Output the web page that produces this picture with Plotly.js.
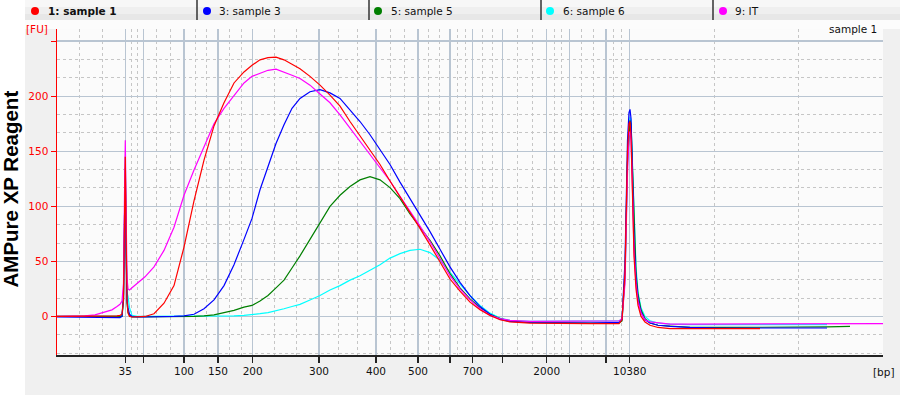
<!DOCTYPE html>
<html><head><meta charset="utf-8">
<script src="https://cdn.plot.ly/plotly-3.0.1.min.js"></script>
<style>html,body{margin:0;padding:0;background:#f0f0f0;}#chart{width:900px;height:395px;}</style>
</head><body><div id="chart"></div>
<script>
// migration time (s)
const migrationTime = [40.0,41.3,42.8,43.8,44.8,45.5,46.0,46.3,46.5,46.65,46.75,46.83,46.92,47.0,47.1,47.25,47.5,48.0,48.8,49.7,50.7,51.7,52.7,53.7,54.7,55.7,56.7,57.7,58.7,59.5,60.3,61.1,61.9,62.7,63.5,64.3,65.3,66.3,67.3,68.3,69.3,70.3,71.3,72.3,73.3,74.3,75.3,76.3,77.3,78.3,79.3,80.3,81.3,82.3,83.3,84.3,85.3,87.3,90.3,93.3,95.3,96.2,96.5,96.8,97.05,97.2,97.3,97.4,97.55,97.7,97.9,98.1,98.4,98.8,99.3,100.1,101.3,103.3,106.3,110.3,114.3,117.0,119.3,122.6];

const sample1 = [0,0,0,0,0,0.5,0.5,1,2, 15,80,145,70,15,3,0, -0.5,-0.5,0,2.5,12,28, 63,105,142,173,194,212,222, 228,233,235,235.5,233,229,225, 218,210,201,191,177,164,150, 138,123,109,95,80,65,49, 34,23,13,6,1,-3,-5, -6,-6.5,-6.5,-6.5,-6.5,-3, 40,150,175,177,165,110,55, 25,10,0,-5,-8,-10,-11, -11,-11,-11,null,null,null,null];
const sample3 = [-0.5,-0.5,-0.5,-0.5,-1,-1,-1,-1,0, 20,90,135,60,15,8,2, 0,-0.5,-0.5,-0.5,-0.5,0, 0.5,2,7,15,28,47,70, 89,115,137,157,174,189,198, 204,206,203,198,188,177,165, 151,138,122,107,93,77,61, 45,31,19,9,2,-2.5,-4.5, -5.5,-6,-6,-5.5,-5.5,-3, 50,160,185,188,180,130,70, 35,16,4,-3,-6,-8,-9, -10,-10.5,-10.5,-10.5,-10.5,null,null];
const sample5 = [0,0,0,0,0,0,0,0,0, 15,80,125,55,12,4,1, -0.5,-0.5,-0.5,-0.5,-0.5,-0.5, -0.5,0,0.5,1.5,3.5,5.5,8.5, 10,14,19,26,33,44,55, 70,85,100,110,118,124,127, 124,117,107,93,81,69,55, 39,26,16,8,2,-2,-4, -5.5,-6,-6,-6,-6,-4, 35,140,172,178,175,135,80, 40,20,6,-2,-6,-8,-9, -10,-10,-10,-10,-9.5,-9,null];
const sample6 = [0,0,0,0,0,0,0,0,0, 15,80,145,60,22,18,8, 1,0,0,0,0,0, 0,0,0,0,0,0.5,1, 1.5,2.5,3.5,5,7,9,11, 15,19,24,28,33,37,42, 47,53,57,60,61,58,51, 40,29,19,10,3,-1.5,-3.5, -4.5,-4.5,-4.5,-4.5,-4,-2, 40,140,172,181,178,140,85, 45,22,8,0,-4,-6,-7, -7.5,-7.5,-7.5,-7.5,-7.5,null,null];
const sampleIT = [0,0,0.5,1.5,4,6,9,11,14, 30,110,160,90,35,25,24, 26,30,36,45,60,81, 110,133,154,175,189,201,212, 218,221,223.5,224.5,222,219,216, 210,202,194,183,171,160,147, 135,123,109,96,82,68,52, 37,25,15,7,1,-2,-3.5, -4.5,-4.5,-4.5,-4.5,-4,-2, 30,130,165,168,160,115,60, 30,14,3,-3,-5,-6,-7, -7,-7,-7,-7,-7,-7,-6.5];

const seriesNames = ['1: sample 1','3: sample 3','5: sample 5','6: sample 6','9: IT'];
const seriesColors = ['#ff0000','#0000ff','#007f00','#00ffff','#ff00ff'];

// ladder (bp) and their migration times
const ladderSizes = [35,50,100,150,200,300,400,500,600,700,1000,2000,3000,7000,10380];
const ladderTime  = [46.83,48.63,52.7,56.1,59.57,66.2,71.9,76.1,79.3,81.57,84.57,88.97,91.23,94.9,97.27];
const ladderLabelShown = [true,false,true,true,true,true,true,true,false,true,false,true,false,false,true];
const yTickVals = [0,50,100,150,200,250];
const yTickText = ['0','50','100','150','200',''];

const xRange = [40, 122.6];
const yRange = [-35, 261];

const ladderText = ladderSizes.map((s,i)=> ladderLabelShown[i] ? String(s) : '');
const bounds = [xRange[0]].concat(ladderTime, [xRange[1]]);
const minorX = [];
for (let i=0;i<bounds.length-1;i++){
  const a=bounds[i], b=bounds[i+1];
  minorX.push(a+(b-a)/3, a+2*(b-a)/3);
}
minorX.push(xRange[1]);

const ys = [sample1, sample3, sample5, sample6, sampleIT];
const drawOrder = [3,2,1,4,0];
const traces = drawOrder.map(i=>({x:migrationTime, y:ys[i], type:'scatter', mode:'lines', name:seriesNames[i],
    line:{color:seriesColors[i], width:1.2}, showlegend:false, hoverinfo:'skip', connectgaps:false}));

const L=57, R=17, T=29, B=40, W=900, H=395;
const pw=W-L-R, ph=H-T-B;
const px2x = p => (p-L)/pw;
const py2y = p => (H-B-p)/ph;

const FONT = 'DejaVu Sans, Verdana, sans-serif';

const shapes = [
  {type:'rect', xref:'paper', yref:'paper', x0:px2x(0), x1:px2x(25), y0:py2y(H), y1:py2y(0), fillcolor:'#ffffff', line:{width:0}, layer:'below'},
  {type:'rect', xref:'paper', yref:'paper', x0:px2x(25), x1:px2x(W), y0:py2y(7), y1:py2y(0), fillcolor:'#f7f7f7', line:{width:0}, layer:'below'},
  {type:'rect', xref:'paper', yref:'paper', x0:px2x(25), x1:px2x(W), y0:py2y(14), y1:py2y(7), fillcolor:'#efefef', line:{width:0}, layer:'below'},
  {type:'rect', xref:'paper', yref:'paper', x0:px2x(25), x1:px2x(W), y0:py2y(20), y1:py2y(14), fillcolor:'#e7e7e7', line:{width:0}, layer:'below'},
  {type:'rect', xref:'paper', yref:'paper', x0:px2x(25), x1:px2x(W), y0:py2y(T), y1:py2y(20), fillcolor:'#fcfcfc', line:{width:0}, layer:'below'}
];
[197,369,541,713].forEach(p=>{
  shapes.push({type:'line', xref:'paper', yref:'paper', x0:px2x(p), x1:px2x(p), y0:py2y(20), y1:py2y(0), line:{color:'#333333', width:1.5}});
});
// legend strip entries
const legendDotX = [35,207,378,550,723];
const legendTextX = [46,217,389,561,733];
const annotations = [];
seriesNames.forEach((n,i)=>{
  const cx = legendDotX[i], cy = 11;
  shapes.push({type:'circle', xref:'paper', yref:'paper', x0:px2x(cx-4), x1:px2x(cx+4), y0:py2y(cy+4), y1:py2y(cy-4),
    fillcolor:seriesColors[i], line:{color:seriesColors[i], width:0}});
  annotations.push({xref:'paper', yref:'paper', x:px2x(legendTextX[i]), y:py2y(11), text: i===0 ? '<b>'+n+'</b>' : n,
    showarrow:false, xanchor:'left', yanchor:'middle', font:{family:FONT, size:10.5, color:'#111111'}});
});
annotations.push(
  {xref:'paper', yref:'paper', x:px2x(37), y:py2y(29.5), text:'[FU]', showarrow:false, xanchor:'center', yanchor:'middle', font:{family:FONT, size:10.5, color:'#ff0000'}},
  {xref:'paper', yref:'paper', x:px2x(884), y:py2y(372), text:'[bp]', showarrow:false, xanchor:'center', yanchor:'middle', font:{family:FONT, size:10.5, color:'#111111'}},
  {xref:'paper', yref:'paper', x:px2x(879), y:py2y(29.5), text:'sample 1', showarrow:false, xanchor:'right', yanchor:'middle', font:{family:FONT, size:10.5, color:'#111111'}},
  {xref:'paper', yref:'paper', x:px2x(10), y:py2y(189.5), text:'<b>AMPure XP Reagent</b>', textangle:-90, showarrow:false, xanchor:'center', yanchor:'middle', font:{family:'Liberation Sans, Arial, sans-serif', size:20.5, color:'#000000'}}
);

const layout = {
  width:W, height:H,
  margin:{l:L, r:R, t:T, b:B, pad:0},
  paper_bgcolor:'#f0f0f0',
  plot_bgcolor:'#fbfbfb',
  font:{family:FONT, size:10.5, color:'#111111'},
  showlegend:false,
  xaxis:{range:xRange, tickmode:'array', tickvals:ladderTime, ticktext:ladderText,
    ticks:'outside', ticklen:6, tickwidth:1.2, tickcolor:'#222222',
    showline:true, linecolor:'#222222', linewidth:1.5, mirror:false,
    showgrid:true, gridcolor:'#b9c5d2', gridwidth:1.3, zeroline:false,
    tickfont:{family:FONT, size:10.5, color:'#111111'},
    minor:{tickmode:'array', tickvals:minorX, showgrid:true, gridcolor:'#c6c6c6', griddash:'3px,3px', gridwidth:1, ticks:''},
    fixedrange:true},
  yaxis:{range:yRange, tickmode:'array', tickvals:yTickVals, ticktext:yTickText,
    ticks:'outside', ticklen:5, tickwidth:1.2, tickcolor:'#ff0000',
    showline:true, linecolor:'#ff0000', linewidth:1.5,
    showgrid:true, gridcolor:'#b9c5d2', gridwidth:1.3, zeroline:false,
    tickfont:{family:FONT, size:10.5, color:'#ff0000'},
    minor:{tick0:0, dtick:50/3, showgrid:true, gridcolor:'#c6c6c6', griddash:'3px,3px', gridwidth:1, ticks:''},
    fixedrange:true},
  shapes:shapes,
  annotations:annotations
};

Plotly.newPlot('chart', traces, layout, {displayModeBar:false, staticPlot:true});
</script>
</body></html>
